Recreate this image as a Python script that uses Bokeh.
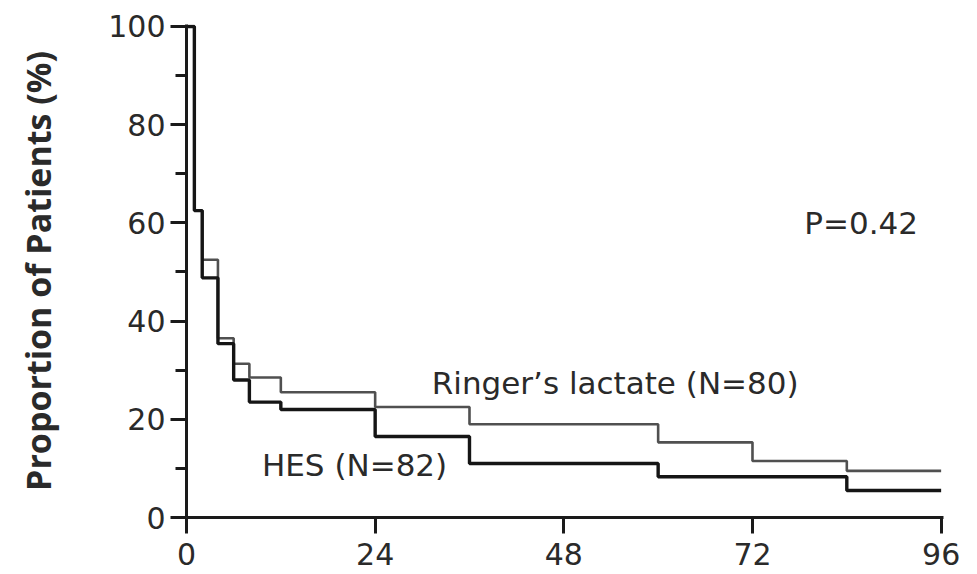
from bokeh.plotting import figure
from bokeh.models import FixedTicker, Label, Range1d
from bokeh.embed import file_html
from bokeh.resources import INLINE

# Kaplan-Meier style step data (hours, % of patients)
hes_t = [0, 1, 2, 4, 6, 8, 12, 24, 36, 60, 84]
hes_v = [100, 62.5, 48.8, 35.4, 28.0, 23.5, 22.0, 16.5, 11.0, 8.3, 5.5]
rl_t = [0, 1, 2, 4, 6, 8, 12, 24, 36, 60, 72, 84]
rl_v = [100, 62.5, 52.5, 36.5, 31.3, 28.5, 25.5, 22.5, 19.0, 15.3, 11.5, 9.5]
t_end = 96

x_ticks = [0, 24, 48, 72, 96]
y_ticks = [0, 20, 40, 60, 80, 100]
y_minor = [10, 30, 50, 70, 90]

FONT = "DejaVu Sans"
LFONT = "Open Sans"
TXT = "#2a2a2a"

p = figure(width=977, height=574, output_backend="svg", toolbar_location=None,
           x_range=Range1d(0, 96.3), y_range=Range1d(0, 100.4),
           min_border_left=186, min_border_right=34, min_border_top=24, min_border_bottom=57)
p.outline_line_color = None
p.grid.grid_line_color = None
p.background_fill_color = "white"
p.border_fill_color = "white"

p.step(rl_t + [t_end], rl_v + [rl_v[-1]], mode="after", line_color="#505050", line_width=2.6)
p.step(hes_t + [t_end], hes_v + [hes_v[-1]], mode="after", line_color="#151515", line_width=3.4)

xa = p.xaxis[0]
xa.ticker = FixedTicker(ticks=x_ticks)
xa.axis_line_width = 3
xa.axis_line_color = "#1a1a1a"
xa.major_tick_line_width = 3
xa.major_tick_line_color = "#1a1a1a"
xa.major_tick_out = 16
xa.major_tick_in = 0
xa.minor_tick_out = 0
xa.major_label_text_font = FONT
xa.major_label_text_font_size = "30px"
xa.major_label_text_color = TXT
xa.major_label_standoff = 9

ya = p.yaxis[0]
ya.ticker = FixedTicker(ticks=y_ticks, minor_ticks=y_minor)
ya.axis_line_width = 3
ya.axis_line_color = "#1a1a1a"
ya.major_tick_line_width = 3
ya.major_tick_line_color = "#1a1a1a"
ya.minor_tick_line_width = 3
ya.minor_tick_line_color = "#1a1a1a"
ya.major_tick_out = 16
ya.major_tick_in = 0
ya.minor_tick_out = 11
ya.minor_tick_in = 0
ya.major_label_text_font = FONT
ya.major_label_text_font_size = "30px"
ya.major_label_text_color = TXT
ya.major_label_standoff = 5
ya.axis_label = "Proportion of Patients (%)"
ya.axis_label_text_font = LFONT
ya.axis_label_text_font_style = "bold"
ya.axis_label_text_font_size = "34px"
ya.axis_label_text_color = TXT
ya.axis_label_standoff = 44

for txt, x, y in [("Ringer\u2019s lactate (N=80)", 31.2, 27.4),
                  ("HES (N=82)", 9.6, 10.6),
                  ("P=0.42", 78.6, 60.0)]:
    p.add_layout(Label(x=x, y=y, text=txt, text_font=FONT, text_font_size="31px",
                       text_color=TXT, text_baseline="middle", text_align="left"))

open("out.html", "w").write(file_html(p, INLINE))
